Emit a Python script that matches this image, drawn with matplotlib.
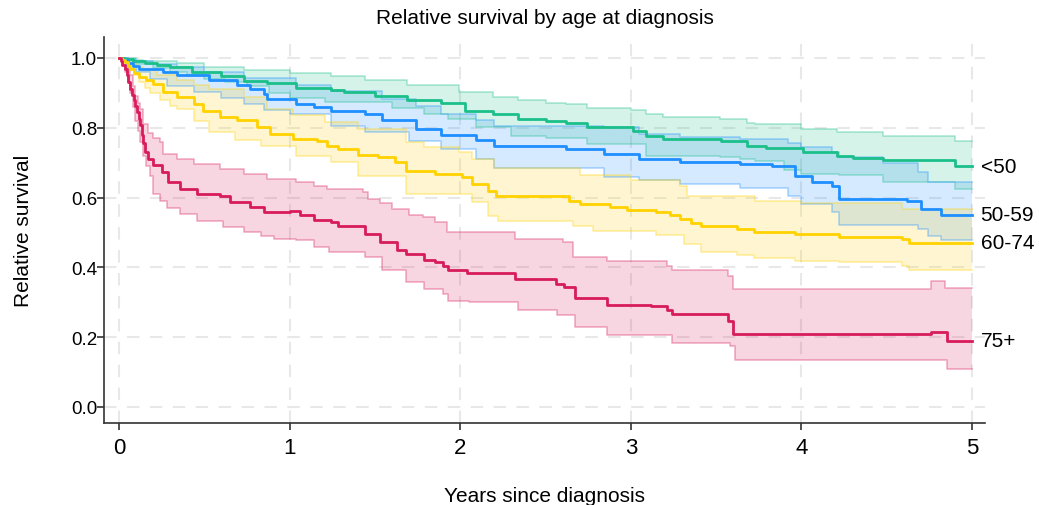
import numpy as np
import matplotlib
matplotlib.use("Agg")
import matplotlib.pyplot as plt

plt.rcParams['font.family'] = ['Liberation Sans', 'DejaVu Sans']

# step estimates (years since diagnosis, relative survival)
groups = ["<50", "50-59", "60-74", "75+"]
colors = ["#1bbf8a", "#1e8fff", "#ffd200", "#d81b5c"]

t_50 = [0, 0.03, 0.08, 0.15, 0.22, 0.3, 0.43, 0.6, 0.73, 0.87, 1.04, 1.24, 1.32, 1.5, 1.69, 1.89,
        2.03, 2.19, 2.34, 2.5, 2.62, 2.74, 3.01, 3.09, 3.19, 3.53, 3.68, 3.79, 4.01, 4.21, 4.3, 4.48,
        4.9]
s_50 = [1.0, 0.996, 0.99, 0.985, 0.98, 0.974, 0.96, 0.948, 0.935, 0.928, 0.913, 0.909, 0.903, 0.892,
        0.88, 0.871, 0.849, 0.84, 0.825, 0.82, 0.814, 0.801, 0.792, 0.776, 0.768, 0.763, 0.749, 0.742,
        0.73, 0.72, 0.712, 0.708, 0.69]
th_50 = [0, 0.1, 0.14, 0.34, 0.5, 0.73, 1.0, 1.24, 1.44, 1.69, 1.99, 2.19, 2.34, 2.5, 2.62, 2.74,
         3.0, 3.09, 3.19, 3.52, 3.68, 3.73, 4.0, 4.21, 4.48, 4.9]
hi_50 = [1.0, 0.995, 0.99, 0.985, 0.975, 0.966, 0.956, 0.947, 0.938, 0.923, 0.903, 0.887, 0.879,
         0.871, 0.868, 0.856, 0.851, 0.84, 0.83, 0.825, 0.814, 0.811, 0.797, 0.789, 0.776, 0.763]
tl_50 = [0, 0.05, 0.1, 0.2, 0.3, 0.4, 0.5, 0.62, 0.75, 0.88, 1.0, 1.21, 1.6, 1.79, 1.93, 2.09, 2.3,
         2.5, 2.74, 3.09, 3.52, 3.64, 3.73, 3.9, 4.0, 4.22, 4.48, 4.9]
lo_50 = [1.0, 0.99, 0.982, 0.97, 0.96, 0.95, 0.94, 0.93, 0.92, 0.9, 0.885, 0.873, 0.856, 0.84,
         0.825, 0.801, 0.776, 0.77, 0.754, 0.719, 0.716, 0.711, 0.706, 0.678, 0.668, 0.665, 0.644,
         0.625]

t_5059 = [0, 0.02, 0.05, 0.08, 0.12, 0.26, 0.34, 0.53, 0.69, 0.77, 0.85, 0.87, 1.04, 1.14, 1.24,
          1.44, 1.54, 1.74, 1.89, 2.09, 2.2, 2.62, 2.84, 3.05, 3.29, 3.64, 3.83, 3.96, 4.06, 4.18,
          4.22, 4.62, 4.7, 4.82]
s_5059 = [1.0, 0.993, 0.985, 0.976, 0.968, 0.961, 0.95, 0.936, 0.922, 0.91, 0.897, 0.882, 0.868,
          0.86, 0.849, 0.84, 0.821, 0.797, 0.779, 0.766, 0.747, 0.739, 0.725, 0.711, 0.703, 0.696,
          0.69, 0.663, 0.644, 0.634, 0.596, 0.591, 0.567, 0.551]
th_5059 = [0, 0.05, 0.1, 0.2, 0.34, 0.5, 0.73, 1.04, 1.24, 1.54, 1.74, 1.89, 2.09, 2.2, 2.84, 3.05,
           3.29, 3.64, 3.92, 4.0, 4.18, 4.22, 4.48, 4.68, 4.74]
hi_5059 = [1.0, 0.996, 0.99, 0.982, 0.973, 0.96, 0.942, 0.921, 0.904, 0.882, 0.863, 0.84, 0.821,
           0.806, 0.801, 0.782, 0.773, 0.768, 0.755, 0.744, 0.73, 0.716, 0.7, 0.673, 0.644]
tl_5059 = [0, 0.04, 0.1, 0.18, 0.28, 0.44, 0.6, 0.73, 0.85, 1.0, 1.24, 1.44, 1.7, 1.89, 2.09, 2.2,
           2.84, 3.05, 3.29, 3.64, 3.92, 4.0, 4.18, 4.22, 4.68, 4.74, 4.82]
lo_5059 = [1.0, 0.98, 0.96, 0.94, 0.92, 0.902, 0.885, 0.868, 0.85, 0.84, 0.804, 0.787, 0.763, 0.739,
           0.711, 0.684, 0.658, 0.649, 0.639, 0.627, 0.605, 0.582, 0.558, 0.521, 0.51, 0.491, 0.477]

t_6074 = [0, 0.015, 0.035, 0.05, 0.064, 0.09, 0.12, 0.16, 0.2, 0.26, 0.34, 0.44, 0.49, 0.59, 0.69,
          0.81, 0.885, 1.02, 1.16, 1.22, 1.285, 1.4, 1.52, 1.62, 1.68, 1.85, 2.01, 2.07, 2.16, 2.21,
          2.64, 2.7, 2.88, 2.98, 3.15, 3.23, 3.29, 3.35, 3.41, 3.62, 3.72, 3.96, 4.22, 4.59, 4.63]
s_6074 = [1.0, 0.995, 0.988, 0.978, 0.968, 0.956, 0.946, 0.936, 0.926, 0.902, 0.887, 0.868, 0.849,
          0.83, 0.821, 0.801, 0.782, 0.768, 0.763, 0.749, 0.739, 0.722, 0.716, 0.701, 0.675, 0.668,
          0.658, 0.639, 0.62, 0.604, 0.591, 0.582, 0.572, 0.563, 0.558, 0.551, 0.539, 0.527, 0.518,
          0.51, 0.5, 0.496, 0.486, 0.481, 0.47]
th_6074 = [0, 0.03, 0.06, 0.1, 0.14, 0.22, 0.34, 0.44, 0.53, 0.73, 0.87, 1.02, 1.21, 1.4, 1.68, 1.79,
           1.99, 2.07, 2.2, 2.7, 3.0, 3.29, 3.33, 3.73, 4.0, 4.59]
hi_6074 = [1.0, 0.993, 0.985, 0.975, 0.968, 0.952, 0.936, 0.922, 0.911, 0.887, 0.854, 0.836, 0.816,
           0.797, 0.758, 0.744, 0.73, 0.711, 0.684, 0.665, 0.651, 0.634, 0.605, 0.591, 0.585, 0.567]
tl_6074 = [0, 0.03, 0.06, 0.09, 0.12, 0.15, 0.18, 0.24, 0.3, 0.34, 0.44, 0.53, 0.68, 0.83, 1.04,
           1.24, 1.4, 1.68, 2.07, 2.16, 2.22, 2.66, 2.78, 3.15, 3.31, 3.41, 3.62, 3.72, 3.96, 4.22,
           4.59, 4.63]
lo_6074 = [1.0, 0.985, 0.97, 0.95, 0.93, 0.915, 0.9, 0.88, 0.862, 0.854, 0.82, 0.787, 0.765, 0.749,
           0.72, 0.701, 0.663, 0.61, 0.586, 0.548, 0.534, 0.519, 0.505, 0.493, 0.467, 0.443, 0.434,
           0.426, 0.419, 0.415, 0.405, 0.391]

t_75 = [0, 0.01, 0.02, 0.035, 0.045, 0.055, 0.064, 0.075, 0.085, 0.094, 0.105, 0.115, 0.123, 0.133,
        0.143, 0.152, 0.17, 0.2, 0.25, 0.29, 0.36, 0.455, 0.59, 0.65, 0.77, 0.85, 1.0, 1.06, 1.14,
        1.24, 1.285, 1.44, 1.53, 1.63, 1.68, 1.79, 1.85, 1.9, 1.93, 2.04, 2.32, 2.56, 2.61, 2.67,
        2.86, 3.12, 3.21, 3.24, 3.57, 3.6, 4.76, 4.85]
s_75 = [1.0, 0.99, 0.98, 0.968, 0.95, 0.93, 0.911, 0.895, 0.878, 0.863, 0.845, 0.825, 0.807, 0.78,
        0.755, 0.73, 0.71, 0.692, 0.672, 0.644, 0.625, 0.61, 0.605, 0.586, 0.572, 0.558, 0.56, 0.55,
        0.536, 0.529, 0.518, 0.496, 0.472, 0.449, 0.438, 0.422, 0.416, 0.405, 0.391, 0.384, 0.367,
        0.352, 0.343, 0.311, 0.292, 0.288, 0.279, 0.266, 0.247, 0.209, 0.216, 0.19]
th_75 = [0, 0.02, 0.035, 0.05, 0.064, 0.08, 0.095, 0.11, 0.123, 0.143, 0.17, 0.2, 0.24, 0.26, 0.34,
         0.44, 0.59, 0.73, 0.87, 1.04, 1.14, 1.22, 1.43, 1.46, 1.53, 1.6, 1.7, 1.78, 1.85, 1.92,
         2.32, 2.6, 2.66, 2.86, 3.21, 3.24, 3.57, 3.6, 4.76, 4.84]
hi_75 = [1.0, 0.995, 0.99, 0.97, 0.95, 0.92, 0.89, 0.87, 0.854, 0.81, 0.785, 0.77, 0.758, 0.725,
         0.711, 0.696, 0.682, 0.668, 0.653, 0.644, 0.634, 0.625, 0.615, 0.596, 0.585, 0.567, 0.55,
         0.543, 0.529, 0.5, 0.48, 0.472, 0.429, 0.419, 0.405, 0.393, 0.376, 0.338, 0.362, 0.34]
tl_75 = [0, 0.02, 0.035, 0.05, 0.064, 0.08, 0.094, 0.11, 0.123, 0.143, 0.16, 0.18, 0.2, 0.24, 0.28,
         0.36, 0.455, 0.61, 0.73, 0.83, 0.91, 1.04, 1.14, 1.23, 1.44, 1.54, 1.68, 1.79, 1.9, 1.93,
         2.05, 2.34, 2.565, 2.67, 2.86, 3.24, 3.58, 3.61, 4.85]
lo_75 = [1.0, 0.98, 0.96, 0.93, 0.9, 0.86, 0.82, 0.79, 0.76, 0.72, 0.69, 0.663, 0.61, 0.59, 0.57,
         0.553, 0.534, 0.515, 0.5, 0.491, 0.481, 0.477, 0.458, 0.443, 0.429, 0.391, 0.358, 0.338,
         0.324, 0.305, 0.301, 0.279, 0.263, 0.229, 0.206, 0.183, 0.176, 0.134, 0.109]

series = [
    (t_50, s_50, th_50, hi_50, tl_50, lo_50),
    (t_5059, s_5059, th_5059, hi_5059, tl_5059, lo_5059),
    (t_6074, s_6074, th_6074, hi_6074, tl_6074, lo_6074),
    (t_75, s_75, th_75, hi_75, tl_75, lo_75),
]
t_end = 5.0


def step_at(t, v, grid):
    idx = np.searchsorted(np.asarray(t), grid, side='right') - 1
    return np.asarray(v)[idx]


fig = plt.figure(figsize=(10.39, 5.06), dpi=100)
ax = fig.add_axes([0.1001, 0.162, 0.848, 0.763])

for (t, s, th, hi, tl, lo), col, name in zip(series, colors, groups):
    grid = np.union1d(np.union1d(th, tl), [t_end])
    hig = step_at(th, hi, grid)
    log = step_at(tl, lo, grid)
    ax.fill_between(grid, log, hig, step='post', color=col, alpha=0.18, lw=0, zorder=2)
    ax.step(grid, hig, where='post', color=col, alpha=0.35, lw=1.2, zorder=3)
    ax.step(grid, log, where='post', color=col, alpha=0.35, lw=1.2, zorder=3)
    xs = np.append(t, t_end)
    ys = np.append(s, s[-1])
    ax.step(xs, ys, where='post', color=col, lw=2, zorder=4)
    ax.text(t_end + 0.05, s[-1], name, fontsize=15, va='center', ha='left', color='black')

ax.set_xlim(-0.088, 5.076)
ax.set_ylim(-0.046, 1.06)
ax.set_xticks(range(6))
ax.set_yticks([0, 0.2, 0.4, 0.6, 0.8, 1.0])
ax.set_yticklabels(["0.0", "0.2", "0.4", "0.6", "0.8", "1.0"])
ax.tick_params(axis='x', labelsize=16, length=5, width=1.2, color='#333333', pad=5)
ax.tick_params(axis='y', labelsize=13.5, length=5, width=1.2, color='#333333', pad=0)
ax.grid(True, color='#e8e8e8', lw=1.5, ls=(0, (6, 5)), zorder=0)
ax.set_axisbelow(True)
for side in ['top', 'right']:
    ax.spines[side].set_visible(False)
for side in ['left', 'bottom']:
    ax.spines[side].set_linewidth(1.2)
    ax.spines[side].set_color('#333333')

ax.set_xlabel("Years since diagnosis", fontsize=15, labelpad=20)
ax.set_ylabel("Relative survival", fontsize=15, labelpad=27)
ax.set_title("Relative survival by age at diagnosis", fontsize=15, pad=10)

fig.savefig("out.png", dpi=100)
